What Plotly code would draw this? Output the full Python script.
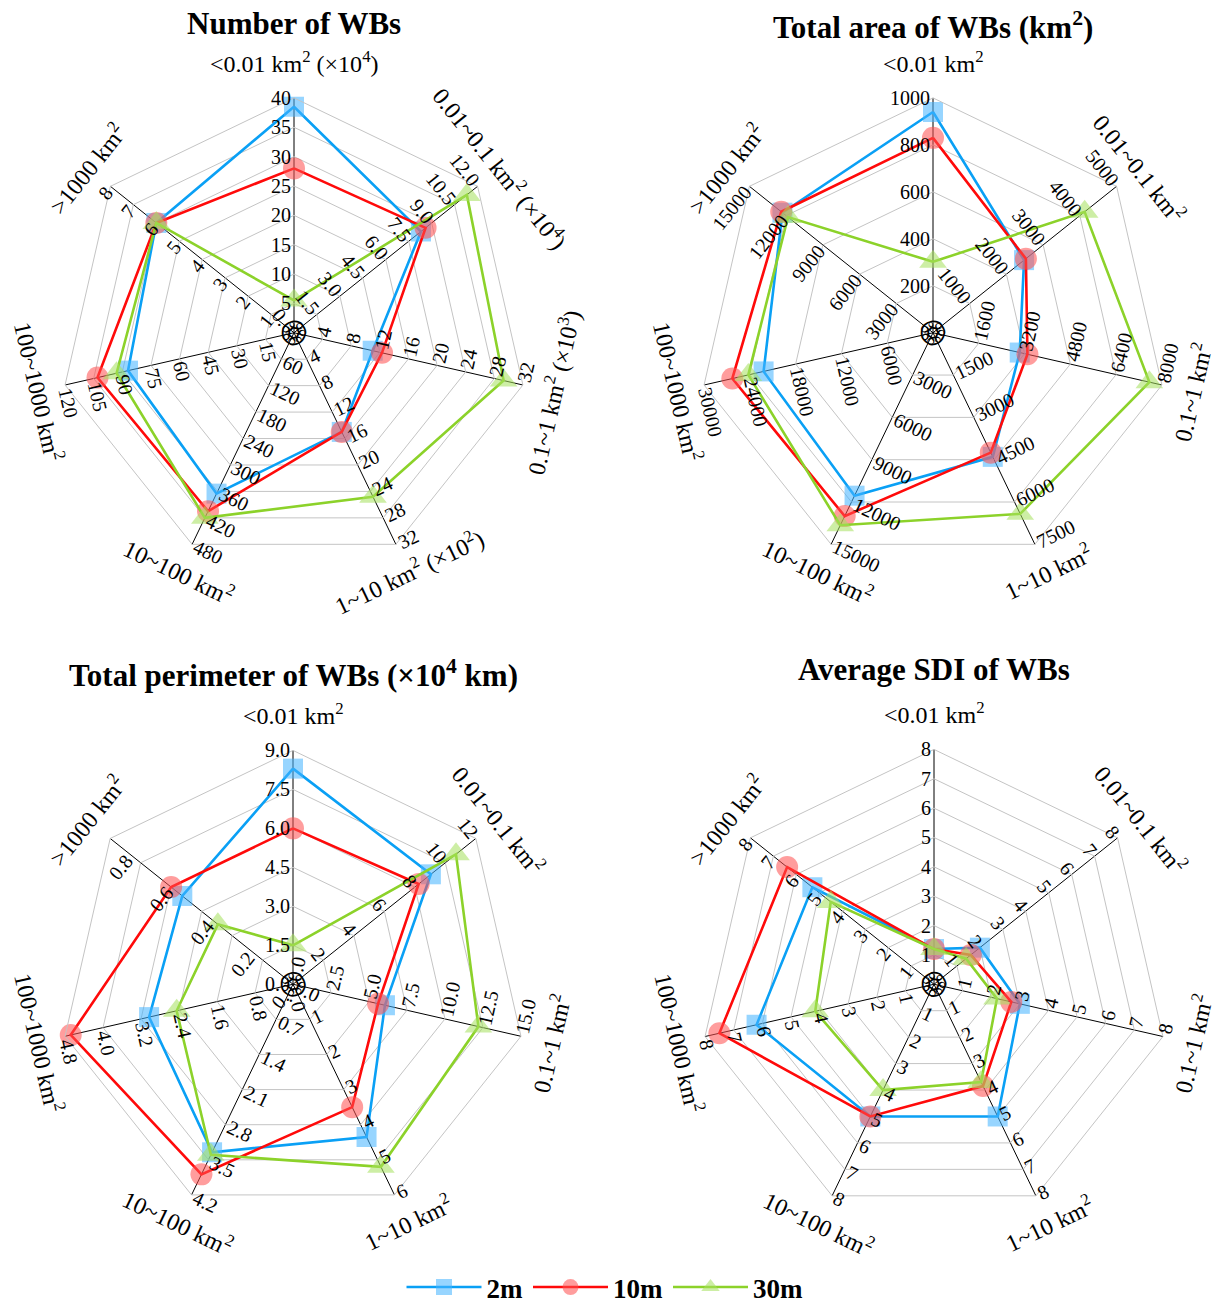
import math
import plotly.graph_objects as go

W, H = 1227, 1304
OFF = 8  # page body margin of the browser
FONT = "Liberation Serif"

# ---------------- data ----------------
axis_ids = ["a0", "a1", "a2", "a3", "a4", "a5", "a6"]
angles = [i * 360 / 7 for i in range(7)]

cat_no_exp = ["&lt;0.01 km<sup>2</sup>", "0.01~0.1 km<sup>2</sup>", "0.1~1 km<sup>2</sup>",
              "1~10 km<sup>2</sup>", "10~100 km<sup>2</sup>", "100~1000 km<sup>2</sup>",
              "&gt;1000 km<sup>2</sup>"]
cat_chart1 = ["&lt;0.01 km<sup>2</sup> (×10<sup>4</sup>)", "0.01~0.1 km<sup>2</sup> (×10<sup>4</sup>)",
              "0.1~1 km<sup>2</sup> (×10<sup>3</sup>)", "1~10 km<sup>2</sup> (×10<sup>2</sup>)",
              "10~100 km<sup>2</sup>", "100~1000 km<sup>2</sup>", "&gt;1000 km<sup>2</sup>"]

series_names = ["2m", "10m", "30m"]

# Chart 1: Number of WBs
num_2m = [38.5, 8.3, 11.0, 15.0, 365, 87, 6.0]
num_10m = [28.0, 8.6, 12.3, 15.0, 405, 103, 6.0]
num_30m = [5.5, 11.3, 29.3, 24.8, 420, 93, 6.0]
num_max = [40, 12, 32, 32, 480, 120, 8]
num_step = [5, 1.5, 4, 4, 60, 15, 1]
num_dec = [0, 1, 0, 0, 0, 0, 0]

# Chart 2: Total area of WBs (km2)
area_2m = [940, 2480, 3030, 4400, 11550, 22200, 12300]
area_10m = [830, 2530, 3300, 4250, 13000, 26300, 12400]
area_30m = [302, 4130, 7560, 6420, 13650, 24200, 11850]
area_max = [1000, 5000, 8000, 7500, 15000, 30000, 15000]
area_step = [200, 1000, 1600, 1500, 3000, 6000, 3000]
area_dec = [0, 0, 0, 0, 0, 0, 0]

# Chart 3: Total perimeter of WBs (x10^4 km)
per_2m = [8.3, 9.05, 6.05, 4.35, 3.35, 3.03, 0.545]
per_10m = [6.0, 8.25, 5.6, 3.5, 3.79, 4.68, 0.60]
per_30m = [1.5, 10.7, 12.2, 5.2, 3.4, 2.45, 0.37]
per_max = [9, 12, 15, 6, 4.2, 4.8, 0.9]
per_step = [1.5, 2, 2.5, 1, 0.7, 0.8, 0.2]
per_dec = [1, 0, 1, 0, 1, 1, 1]

# Chart 4: Average SDI of WBs
sdi_2m = [1.2, 2.0, 3.0, 5.0, 5.0, 6.2, 5.3]
sdi_10m = [1.2, 1.6, 2.7, 3.85, 5.0, 7.5, 6.4]
sdi_30m = [1.2, 1.4, 2.2, 3.7, 4.0, 4.15, 4.5]
sdi_max = [8] * 7
sdi_step = [1] * 7
sdi_dec = [0] * 7

charts = [
    dict(title="Number of WBs", ty=24, cats=cat_chart1, vals=[num_2m, num_10m, num_30m],
         vmax=num_max, step=num_step, dec=num_dec, levels=8, cx=294, cy=333, R=235),
    dict(title="Total area of WBs (km<sup>2</sup>)", ty=26, cats=cat_no_exp, vals=[area_2m, area_10m, area_30m],
         vmax=area_max, step=area_step, dec=area_dec, levels=5, cx=933, cy=333, R=235),
    dict(title="Total perimeter of WBs (×10<sup>4</sup> km)", ty=674, cats=cat_no_exp, vals=[per_2m, per_10m, per_30m],
         vmax=per_max, step=per_step, dec=per_dec, levels=6, cx=293, cy=985, R=234),
    dict(title="Average SDI of WBs", ty=670, cats=cat_no_exp, vals=[sdi_2m, sdi_10m, sdi_30m],
         vmax=sdi_max, step=sdi_step, dec=sdi_dec, levels=8, cx=934, cy=985, R=235),
]

line_colors = ["#0AA0F5", "#FF0A0A", "#8CD22A"]
marker_colors = ["rgba(70,180,255,0.8)", "rgba(255,80,80,0.8)", "rgba(165,225,95,0.8)"]
marker_symbols = ["square", "circle", "triangle-up"]
marker_sizes = [20, 22, 24]

fig = go.Figure()
annotations = []


def text_width(s, fs):
    w = 0
    for ch in s:
        w += 0.26 * fs if ch == "." else 0.5 * fs
    return w


def px2paper(px, py):
    return (px - OFF) / W, 1 - (py - OFF) / H


cat_gap = [36, 30, 30, 30, 30, 26, 30]

for ci, ch in enumerate(charts):
    pid = "polar" if ci == 0 else f"polar{ci + 1}"
    cx, cy, R = ch["cx"], ch["cy"], ch["R"]
    x0, y1 = px2paper(cx - R, cy - R)
    x1, y0 = px2paper(cx + R, cy + R)
    n = ch["levels"]
    fig.update_layout(**{pid: dict(
        domain=dict(x=[x0, x1], y=[y0, y1]),
        gridshape="linear",
        bgcolor="white",
        radialaxis=dict(range=[0, 1], tickvals=[k / n for k in range(1, n + 1)],
                        showticklabels=False, ticks="", showline=False,
                        gridcolor="#C4C4C4", gridwidth=1, angle=90),
        angularaxis=dict(type="category", categoryorder="array", categoryarray=axis_ids,
                         direction="clockwise", rotation=90,
                         showticklabels=False, ticks="",
                         gridcolor="black", gridwidth=1,
                         showline=True, linecolor="#C4C4C4", linewidth=1),
    )})

    # series
    for si in range(3):
        vals = ch["vals"][si]
        rn = [v / m for v, m in zip(vals, ch["vmax"])]
        fig.add_trace(go.Scatterpolar(
            r=rn + [rn[0]], theta=axis_ids + [axis_ids[0]], subplot=pid,
            mode="lines+markers", name=f"<b>{series_names[si]}</b>",
            line=dict(color=line_colors[si], width=2.6),
            marker=dict(symbol=marker_symbols[si], size=[marker_sizes[si]] * 7 + [0],
                        color=marker_colors[si], line=dict(width=0)),
            showlegend=(ci == 0), legendgroup=series_names[si],
        ))

    # title
    tx, ty = px2paper(cx, ch["ty"])
    annotations.append(dict(text=f"<b>{ch['title']}</b>", x=tx, y=ty,
                            xref="paper", yref="paper", showarrow=False,
                            font=dict(family=FONT, size=31, color="black"),
                            xanchor="center", yanchor="middle"))

    fs = 20
    for ai, a in enumerate(angles):
        rad = math.radians(a)
        ux, uy = math.sin(rad), -math.cos(rad)
        lx, ly = -math.cos(rad), -math.sin(rad)
        ta = a
        if 90 < a <= 270:
            ta = a - 180
        elif a > 270:
            ta = a - 360
        # category label
        dcat = R + cat_gap[ai]
        qx, qy = px2paper(cx + dcat * ux, cy + dcat * uy)
        annotations.append(dict(text=ch["cats"][ai], x=qx, y=qy,
                                xref="paper", yref="paper", showarrow=False, textangle=ta,
                                font=dict(family=FONT, size=24, color="black"),
                                xanchor="center", yanchor="middle"))
        # tick labels
        step, vmax, dec = ch["step"][ai], ch["vmax"][ai], ch["dec"][ai]
        k = 0
        while k * step <= vmax + 1e-9:
            v = k * step
            s = f"{v:.{dec}f}"
            rr = v / vmax * R
            off = 3 + text_width(s, fs) / 2
            qx, qy = px2paper(cx + rr * ux + off * lx, cy + rr * uy + off * ly)
            annotations.append(dict(text=s, x=qx, y=qy, xref="paper", yref="paper",
                                    showarrow=False, textangle=ta,
                                    font=dict(family=FONT, size=fs, color="black"),
                                    xanchor="center", yanchor="middle"))
            k += 1

lx_, ly_ = px2paper(605, 1288)
fig.update_layout(
    width=W, height=H, margin=dict(l=0, r=0, t=0, b=0),
    paper_bgcolor="white", plot_bgcolor="white",
    annotations=annotations,
    legend=dict(orientation="h", x=lx_, xanchor="center", y=ly_, yanchor="middle",
                font=dict(family=FONT, size=27, color="black"), itemwidth=75,
                bgcolor="rgba(0,0,0,0)"),
    font=dict(family=FONT),
)

fig.write_html("out.html")
